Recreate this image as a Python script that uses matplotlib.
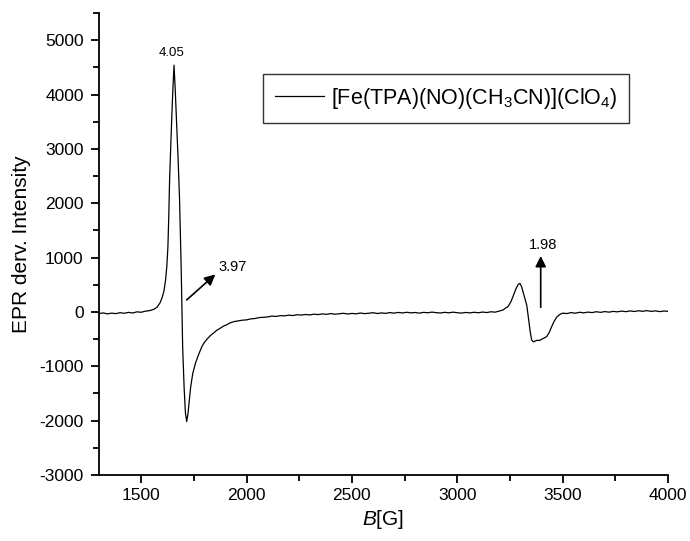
import matplotlib
matplotlib.use("Agg")
import matplotlib.pyplot as plt
from matplotlib.ticker import MultipleLocator

plt.rcParams['font.family'] = ['Liberation Sans', 'DejaVu Sans']
plt.rcParams['mathtext.fontset'] = 'custom'
plt.rcParams['mathtext.rm'] = 'Liberation Sans'
plt.rcParams['mathtext.it'] = 'Liberation Sans:italic'
plt.rcParams['axes.unicode_minus'] = False

# Magnetic field (G)
field = [
    1300, 1320, 1340, 1360, 1380, 1400, 1420, 1440, 1460, 1480, 1500, 1520,
    1540, 1560, 1575, 1590, 1600, 1608, 1616, 1622, 1627, 1631, 1635, 1640,
    1645, 1650, 1656, 1661, 1668, 1675, 1682, 1690, 1697, 1704, 1710, 1716,
    1722, 1728, 1735, 1745, 1758, 1772, 1789, 1800, 1815, 1830, 1845, 1858,
    1875, 1890, 1905, 1920,
    1940, 1960, 1980, 2000, 2020, 2040, 2060, 2080, 2100, 2120, 2140, 2160,
    2180, 2200, 2220, 2240, 2260, 2280, 2300, 2320, 2340, 2360, 2380, 2400,
    2420, 2440, 2460, 2480, 2500, 2520, 2540, 2560, 2580, 2600, 2620, 2640,
    2660, 2680, 2700, 2720, 2740, 2760, 2780, 2800, 2820, 2840, 2860, 2880,
    2900, 2920, 2940, 2960, 2980, 3000, 3020, 3040, 3060, 3080, 3100, 3120,
    3140, 3160, 3180, 3200,
    3217, 3225, 3241, 3255, 3268, 3280, 3290, 3297, 3305, 3313, 3320, 3330,
    3338, 3346, 3353, 3361, 3370, 3380, 3390, 3400, 3412, 3424, 3436, 3448,
    3460, 3472, 3485, 3500, 3520, 3540, 3560, 3580, 3600, 3620, 3640, 3660,
    3680, 3700, 3720, 3740, 3760, 3780, 3800, 3820, 3840, 3860, 3880, 3900,
    3920, 3940, 3960, 3980, 4000,
]

# First-derivative EPR signal
intensity = [
    -30, -18, -36, -22, -31, -14, -25, -8, -19, 2, -6, 14,
    24, 48, 85, 170, 270, 380, 590, 850, 1200, 1750, 2430, 3000,
    3550, 4050, 4540, 4150, 3500, 2850, 2100, 800, -650, -1400, -1850, -2017,
    -1880, -1640, -1380, -1130, -940, -790, -630, -560, -490, -430, -385, -340,
    -300, -262, -238, -205,
    -178, -165, -152, -146, -128, -121, -104, -97, -92, -76, -83, -68,
    -72, -60, -66, -51, -58, -47, -55, -41, -49, -36, -44, -30,
    -42, -33, -25, -38, -27, -35, -20, -31, -24, -14, -29, -18,
    -26, -12, -22, -9, -19, -6, -17, -10, -22, -8, -15, -3,
    -13, -20, -7, -16, -4, -14, -21, -9, -18, -6, -15, -2,
    -11, 3, -4, 18,
    35, 60, 100, 190, 320, 440, 510, 525, 470, 360, 260, 120,
    -120, -360, -515, -550, -535, -520, -525, -505, -480, -455, -380, -270,
    -170, -95, -50, -22, -30, -12, -24, -6, -17, -3, -12, 4,
    -8, 7, -4, 10, 2, 16, 5, 19, 8, 22, 12, 24,
    10, 20, 6, 17, 12,
]

legend_label = r'[Fe(TPA)(NO)(CH$_3$CN)](ClO$_4$)'

# g-value markers: (text, x, y)
g_labels = [("4.05", 1645, 4770), ("3.97", 1865, 830), ("1.98", 3407, 1230)]
# arrows: (tail, head)
g_arrows = [((1716, 221), (1852, 690)), ((3396, 85), (3396, 1030))]

fig = plt.figure(figsize=(6.9, 5.41), dpi=100)
ax = fig.add_axes([99 / 690, 1 - 475 / 541, 569 / 690, 462 / 541])

ax.plot(field, intensity, color='black', lw=0.9, label=legend_label)

ax.set_xlim(1300, 4000)
ax.set_ylim(-3000, 5500)
ax.xaxis.set_major_locator(MultipleLocator(500))
ax.xaxis.set_minor_locator(MultipleLocator(250))
ax.set_yticks(range(-3000, 5001, 1000))
ax.yaxis.set_minor_locator(MultipleLocator(500))

for s in ('top', 'right'):
    ax.spines[s].set_visible(False)
for s in ('left', 'bottom'):
    ax.spines[s].set_linewidth(1.3)

ax.tick_params(which='major', direction='out', length=6, width=1.3, labelsize=12.5)
ax.tick_params(which='minor', direction='out', length=4, width=1.3)
ax.tick_params(axis='y', which='major', pad=5)
ax.tick_params(axis='x', which='major', pad=3)

ax.set_ylabel('EPR derv. Intensity', fontsize=15, labelpad=6)
ax.set_xlabel(r'$B$[G]', fontsize=15, labelpad=4)

for txt, x, y in g_labels:
    fs = 9.5 if txt == "4.05" else 10.5
    ha = 'left' if txt == "3.97" else 'center'
    ax.text(x, y, txt, fontsize=fs, ha=ha, va='center')

for tail, head in g_arrows:
    ax.annotate('', xy=head, xytext=tail,
                arrowprops=dict(arrowstyle='-|>', color='black', lw=1.2,
                                mutation_scale=16, shrinkA=0, shrinkB=0))

leg = ax.legend(loc='upper left', bbox_to_anchor=(0.288, 0.868),
                borderaxespad=0, fontsize=15.5, frameon=True, fancybox=False,
                handlelength=2.3, handletextpad=0.3, borderpad=0.55)
leg.get_frame().set_edgecolor('black')
leg.get_frame().set_linewidth(1.0)

fig.savefig('out.png', dpi=100)
